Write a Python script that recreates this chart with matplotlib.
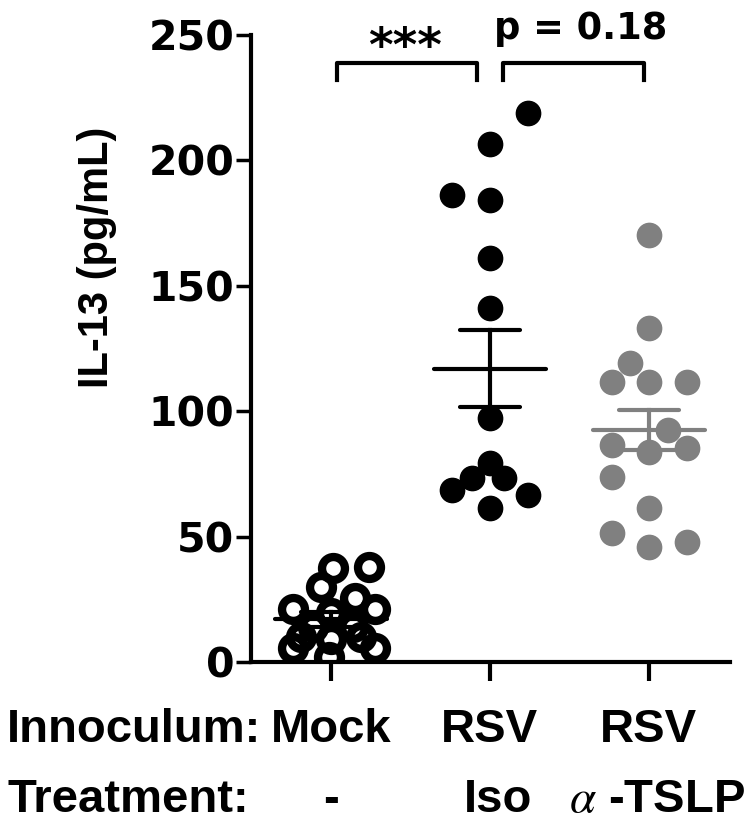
import matplotlib.pyplot as plt
from matplotlib import transforms

# group labels under the x axis
innoculum = ['Mock', 'RSV', 'RSV']
treatment = ['-', 'Iso', r'$\alpha$ -TSLP']

# IL-13 (pg/mL) values, with horizontal offsets (fraction of group spacing)
mock = [38, 37.5, 30, 25.5, 21, 21, 19.5, 14, 14, 10, 10, 9, 5.5, 5.5, 2]
mock_dx = [0.24, 0.01, -0.06, 0.15, -0.24, 0.28, 0.0, -0.11, 0.14, -0.19, 0.19, 0.0, -0.24, 0.28, -0.01]

rsv_iso = [218.9, 206.5, 186.2, 184.2, 161.1, 141.1, 97.3, 79.3, 73.4, 73.4, 68.6, 66.6, 61.4]
rsv_iso_dx = [0.24, 0.0, -0.24, 0.0, 0.0, 0.0, 0.0, 0.0, -0.11, 0.09, -0.24, 0.24, 0.0]

rsv_tslp = [170.3, 133.2, 119.2, 111.6, 111.6, 111.6, 92.5, 86.5, 83.7, 85.3, 73.8, 61.4, 51.4, 45.9, 47.8]
rsv_tslp_dx = [0.0, 0.0, -0.12, -0.23, 0.0, 0.24, 0.12, -0.23, 0.0, 0.24, -0.23, 0.0, -0.23, 0.0, 0.24]

# mean +/- SEM as drawn
means = [17, 117, 92.5]
sems = [3, 15.4, 8]

gray = '#808080'
bold_sans = 'Liberation Sans'

plt.rcParams['mathtext.fontset'] = 'stix'

fig = plt.figure(figsize=(7.47, 8.22), dpi=100)
ax = fig.add_axes([0.336, 0.1946, 0.641, 0.7628])

ax.plot([0 + d for d in mock_dx], mock, 'o', ms=16.5, mfc='none', mec='black', mew=6)
ax.plot([1 + d for d in rsv_iso_dx], rsv_iso, 'o', ms=17.5, mfc='black', mec='black', mew=1)
ax.plot([2 + d for d in rsv_tslp_dx], rsv_tslp, 'o', ms=17.5, mfc=gray, mec=gray, mew=1)

colors = ['black', 'black', gray]
for i in range(3):
    c = colors[i]
    m, s = means[i], sems[i]
    ax.plot([i - 0.35, i + 0.35], [m, m], color=c, lw=3, solid_capstyle='round', zorder=5)
    ax.plot([i, i], [m - s, m + s], color=c, lw=3, zorder=5)
    for y in (m - s, m + s):
        ax.plot([i - 0.19, i + 0.19], [y, y], color=c, lw=3, solid_capstyle='round', zorder=5)

# significance brackets
for x0, x1 in [(0.04, 0.92), (1.08, 1.97)]:
    ax.plot([x0, x0, x1, x1], [232, 239, 239, 232], color='black', lw=3, clip_on=False)
ax.text(0.465, 235.5, '***', ha='center', va='bottom', fontsize=34,
        family='DejaVu Sans', weight='bold')
ax.text(1.57, 248.5, 'p = 0.18', ha='center', va='baseline', fontsize=26.5,
        family='DejaVu Sans', weight='bold')

ax.set_xlim(-0.503, 2.509)
ax.set_ylim(0, 250)
ax.set_yticks([0, 50, 100, 150, 200, 250])
ax.set_xticks([0, 1, 2])
ax.set_xticklabels([])
for side in ['top', 'right']:
    ax.spines[side].set_visible(False)
for side in ['left', 'bottom']:
    ax.spines[side].set_linewidth(3)
ax.tick_params(axis='y', direction='out', length=11, width=2.5, pad=1)
ax.tick_params(axis='x', direction='out', length=14, width=3)
for lab in ax.get_yticklabels():
    lab.set_fontsize(29.5)
    lab.set_fontfamily('DejaVu Sans')
    lab.set_fontweight('bold')

fig.text(97 / 747, 1 - 257 / 822, 'IL-13 (pg/mL)', rotation=90, ha='center', va='center',
         fontsize=30, family=bold_sans, weight='bold')

trans = transforms.blended_transform_factory(ax.transData, fig.transFigure)
row1, row2 = 0.0973, 0.012
fig.text(7 / 747, row1, 'Innoculum:', ha='left', va='baseline', fontsize=34,
         family=bold_sans, weight='bold')
fig.text(7 / 747, row2, 'Treatment:', ha='left', va='baseline', fontsize=34,
         family=bold_sans, weight='bold')
for i in range(3):
    fig.text(i, row1, innoculum[i], transform=trans, ha='center', va='baseline',
             fontsize=34, family=bold_sans, weight='bold')
    fig.text(i + (0.05 if i > 0 else 0), row2, treatment[i], transform=trans, ha='center',
             va='baseline', fontsize=34, family=bold_sans, weight='bold')

fig.savefig('out.png', dpi=100)
